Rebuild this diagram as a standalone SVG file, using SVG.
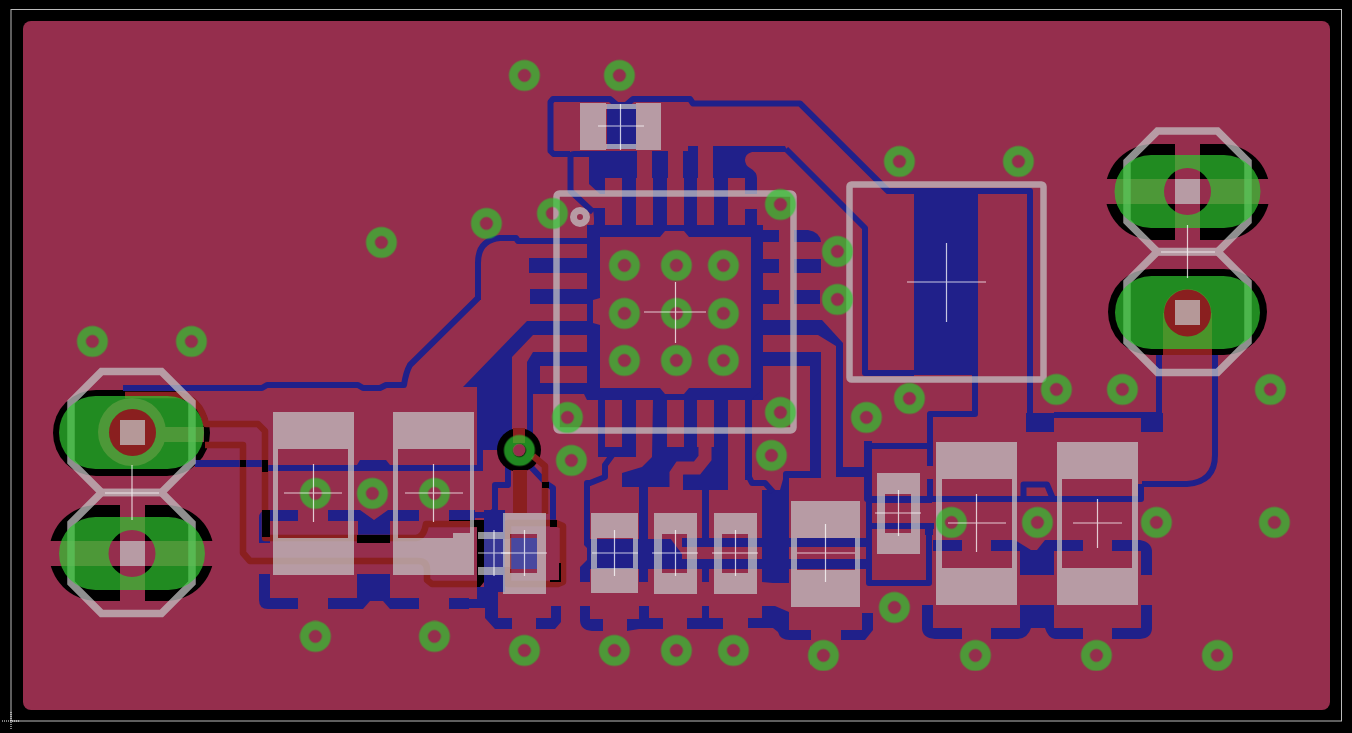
<svg xmlns="http://www.w3.org/2000/svg" width="1352" height="733" viewBox="0 0 1352 733">
<style>
.b{fill:#20208a}
.t{fill:none;stroke:#20208a;stroke-width:6;stroke-linejoin:round}
.p{fill:#952e4d}
.q{fill:none;stroke:#952e4d}
.r{fill:none;stroke:#8a1f1f;stroke-width:6.5;stroke-linejoin:round}
.k{fill:#000}
.sk{fill:none;stroke:#c5c5c5}
.x{stroke:#fff;stroke-opacity:.75;stroke-width:1.2;fill:none}
.v{fill:none;stroke:#30c630;stroke-width:9}
</style>
<defs>
<circle id="via" r="11" class="v"/>
<polygon id="oct" points="-30,-60.5 30,-60.5 60.5,-30 60.5,30 30,60.5 -30,60.5 -60.5,30 -60.5,-30" class="sk" stroke-width="7.5"/>
</defs>
<rect width="1352" height="733" fill="#000"/>
<rect x="11" y="9.500" width="1330.500" height="711.500" fill="none" stroke="#bbb" stroke-width="1"/>
<path d="M2,721H20M11,712V730" stroke="#fff" stroke-width="1" stroke-dasharray="1 1" fill="none"/>
<rect id="board" x="23" y="21" width="1307" height="689" rx="8" class="p"/>

<g id="halo">
<rect x="53" y="390" width="157" height="86" rx="43" class="k"/>
<rect x="49" y="505" width="165" height="96" rx="48" class="k"/>
<rect x="1105" y="144" width="165" height="96" rx="48" class="k"/>
<rect x="1108" y="269" width="159" height="86" rx="43" class="k"/>
<rect x="120" y="505" width="25" height="96" class="p"/><rect x="45" y="541" width="175" height="25" class="p"/>
<rect x="1175" y="144" width="25" height="96" class="p"/><rect x="1100" y="179" width="175" height="25" class="p"/>
<circle cx="132" cy="432" r="34" class="p"/>
<rect x="127" y="427" width="77" height="15" class="p"/>
</g>

<g id="connectors">
<g id="blue-traces">
<path class="t" d="M589,154H574Q570.500,154 570.500,158V191L593,212M570,154H553.500L550.500,151V102L553,99H610L617,105H626L633,99H690L693,103.500H800L888,191H1030V415"/>
<rect x="607" y="104" width="29" height="45" class="b"/>
<path class="b" d="M589,151H637V178H636V225H622V178H605V194H600L589,184Z"/>
<path class="b" d="M652,151H668V178H667V225H653V178H652Z"/>
<path class="b" d="M683,151H688V146H698V178H697V225H684V178H683Z"/>
<path class="b" d="M713,146H785L788,152H752Q745,154 745,160Q745,165 750,168Q757,172 757,178V194H745V178H728V225H714V178H713Z"/>
<path class="t" d="M786,149L865,228V373H914"/>
<rect x="745" y="209" width="12" height="18" class="b"/>
<path class="b" d="M593,208H605V226H600V237H587V234L594,224V218Z"/>
<path class="b" fill-rule="evenodd" d="M587,225H763V400H587ZM600,237V298L593,300V323L600,325V388H660L665,394H684L689,388H751V237H689L684,231H665L660,237Z"/>
<rect x="529" y="258" width="58" height="15" class="b"/>
<rect x="530" y="289" width="57" height="15" class="b"/>
<path class="b" d="M527,321H587V335H533L512,357V470H505V450H483V471H460V465H477V387H463Z"/>
<path class="b" fill-rule="evenodd" d="M527,362L533,352H587V389L598,400H587L584,394H527ZM540,366V383H587V366Z"/>
<path class="t" d="M530,362V466L547,484L553,488V520M478,300V263Q478,240 500,238H516L518,241H587"/>
<path class="t" d="M478,298L410,365Q406,372 404,385H386L380,388H363L358,385H267L262,388H123"/>
<path class="t" d="M508,465V485H495V510L490,515H460"/>
<rect x="763" y="230" width="16" height="12" class="b"/>
<path class="b" d="M794,230H808Q820,232 821,242H794Z"/>
<rect x="763" y="259" width="16" height="14" class="b"/>
<rect x="794" y="259" width="27" height="14" class="b"/>
<rect x="763" y="290" width="16" height="14" class="b"/>
<rect x="794" y="290" width="26" height="14" class="b"/>
<path class="b" d="M751,320H822L843,343V467H872V477H836V346L818,335H751Z"/>
<path class="b" fill-rule="evenodd" d="M763,352H821V478H789V583H773L762,582V490H773L780,490L785,472H810V383H763ZM763,366V383H810V366Z"/>
<path class="b" d="M763,389V400H751Z"/>
<rect x="598" y="400" width="7" height="47" class="b"/>
<rect x="622" y="400" width="14" height="57" class="b"/>
<rect x="598" y="447" width="38" height="10" class="b"/>
<path class="t" d="M613,454L605,465V477L590,483H587V540"/>
<path class="b" d="M653,400H667V447H684V400H697V447H714V400H728V490H683V472L670,487H622V473L642,467L652,457Z"/>
<path class="q" stroke-width="13" d="M705,447V458L697,468H680L676,474V490"/>
<rect x="745" y="400" width="7" height="80" class="b"/>
<path class="t" d="M748,475L752,483H765L773,492"/>
<rect x="484" y="510" width="21" height="82" class="b"/>
<path class="b" d="M477,587H498V618H512V629H495L485,618V608H460V599H477Z"/>
<path class="b" d="M536,618H551V606H561V622L555,629H536Z"/>
<rect x="510" y="538" width="27" height="31" class="b"/>
<path class="b" d="M584,539H682V569H590V582H580V567L587,560V548L584,545Z"/>
<polygon points="670,538 681,538 700,558 685,558" class="p"/>
<rect x="639" y="487" width="9" height="52" class="b"/><rect x="702" y="487" width="7" height="52" class="b"/>
<rect x="639" y="569" width="9" height="13" class="b"/><rect x="702" y="569" width="7" height="13" class="b"/>
<rect x="682" y="538" width="190" height="9" class="b"/><rect x="682" y="559" width="190" height="10" class="b"/>
<path class="b" d="M580,606H590V619H603V631H592Q580,630 580,620Z"/>
<path class="b" d="M639,606H649V618H663V629H639L627,631V619H639Z"/>
<path class="b" d="M702,606H709V618H723V629H687V618H702Z"/>
<path class="b" d="M762,606H775L789,612V630H811V640H790Q780,640 778,632L773,628H748V618H762Z"/>
<path class="b" d="M841,630H862V613H873V630L865,640H841Z"/>
<rect x="195" y="460" width="73" height="7" class="b"/>
<rect x="268" y="465" width="89" height="6" class="b"/>
<path class="b" d="M357,465L360,460H386L390,465H475V471H357Z"/>
<path class="b" d="M268,510H298V521H270V543H259V518Q259,510 268,510Z"/>
<path class="b" d="M328,510H360L374,520L388,510H419V521H390V543H358V521H328Z"/>
<rect x="449" y="510" width="26" height="11" class="b"/>
<rect x="259" y="574" width="11" height="24" class="b"/>
<path class="b" d="M259,598H298V609H268Q259,609 259,600Z"/>
<path class="b" d="M328,598H357V574H390V598H419V609H390L383,601H370L363,609H328Z"/>
<rect x="449" y="598" width="20" height="11" class="b"/>
<rect x="914" y="188" width="64" height="187" class="b"/>
<path class="t" d="M975,372V414H930V466M930,479V499H867V441M867,446H930M1142,484H1187Q1215,482 1215,455V355M1159,355V415H1054"/>
<path class="t" d="M927,499H1141V484M1023.500,499V484.500H1047L1053,499"/>
<rect x="1026" y="413" width="28" height="19" class="b"/>
<rect x="1141" y="413" width="22" height="19" class="b"/>
<path class="t" d="M786,545V474H818"/>
<path class="t" d="M869,441V583H929V527"/>
<path class="t" d="M869,526H934"/>
<path class="t" d="M869,500H932"/>
<path class="b" d="M925,527H933V540H962V551H933V535H925Z"/>
<path class="b" d="M991,540H1015L1031,550L1037,550L1045,540H1083V551H1054V575H1020V551H991Z"/>
<path class="b" d="M1112,540H1140Q1152,542 1152,552V575H1141V551H1112Z"/>
<path class="b" d="M922,605H933V628H962V639H935Q922,638 922,628Z"/>
<path class="b" d="M1020,605H1054V628H1083V639H1055Q1048,638 1045,628H1031Q1028,638 1018,639H991V628H1020Z"/>
<path class="b" d="M1141,605H1152V628Q1152,638 1140,639H1112V628H1141Z"/>
</g>

<g id="board-gaps">
<rect x="885" y="503" width="26" height="20" class="p"/>
</g>

<g id="red-traces">
<circle cx="519" cy="450" r="22" class="k"/>
<circle cx="519" cy="450" r="6.500" class="p"/>
<path class="r" d="M125,395H178Q200,398 206,424H258L265,431V538H416Q424,537 426,524H477M477,584H432L427,580V570Q427,561 418,561H250L243,553V445H205"/>
<path class="r" d="M508,523H556L563,526V582L558,584H508Z"/>
<rect x="513" y="470" width="14" height="43" fill="#8a1f1f"/>
<rect x="513" y="428" width="12" height="15" fill="#8a1f1f"/>
<path class="r" d="M533,456L545,466V514"/>
<circle cx="1187.500" cy="313" r="24" fill="#8a1f1f"/>
<rect x="1163" y="313" width="49" height="42" fill="#8a1f1f"/>
<circle cx="132.500" cy="432.500" r="23.500" fill="#8a1f1f"/>
</g>

<g id="crossings">
<rect x="240" y="460" width="6" height="7" class="k"/>
<rect x="262" y="460" width="6" height="12" class="k"/>
<rect x="262" y="510" width="8" height="27" class="k"/>
<rect x="357" y="535" width="33" height="8" class="k"/>
<rect x="449" y="520" width="21" height="1" class="k"/>
<path class="k" d="M470,520H484V582L480,587H477V527H470Z"/>
<rect x="542" y="482" width="7" height="6" class="k"/>
<rect x="550" y="520" width="7" height="7" class="k"/>
<path class="k" d="M559,563H561V582H550V580H559Z"/>
</g>
</g>

<g id="silk" opacity=".73">
<g class="sk" stroke-width="6.500">
<rect x="556.500" y="193.500" width="237" height="237" rx="3"/>
<rect x="849.500" y="184.500" width="194" height="195" rx="2"/>
</g>
<use href="#oct" x="131.500" y="432"/><use href="#oct" x="131.500" y="553"/>
<use href="#oct" x="1187.500" y="191.500"/><use href="#oct" x="1187.500" y="312"/>
<g fill="#c5c5c5">
<circle cx="580" cy="217" r="6.500" fill="none" stroke="#c5c5c5" stroke-width="7"/>
<rect x="120" y="420" width="25" height="25"/><rect x="120" y="541" width="25" height="25"/>
<rect x="1175" y="179" width="25" height="25"/><rect x="1175" y="300" width="25" height="25"/>
<rect x="580" y="103" width="26" height="47"/><rect x="636" y="103" width="25" height="47"/><rect x="606" y="104" width="30" height="5"/><rect x="606" y="144" width="30" height="5"/>
<path fill-rule="evenodd" d="M273,412H354V575H273ZM278,449V538H348V449Z"/>
<path fill-rule="evenodd" d="M393,412H474V575H393ZM398,449V538H470V449Z"/>
<rect x="453" y="533" width="21" height="42"/>
<rect x="478" y="532" width="32" height="7"/><rect x="478" y="567" width="32" height="8"/>
<rect x="503" y="513" width="43" height="21"/><rect x="503" y="573" width="43" height="21"/><rect x="503" y="534" width="7" height="39"/><rect x="537" y="534" width="9" height="39"/>
<path fill-rule="evenodd" d="M591,513H638V593H591ZM597,538V568H633V538Z"/>
<path fill-rule="evenodd" d="M654,513H697V594H654ZM662,534V573H687V534Z"/>
<path fill-rule="evenodd" d="M714,513H757V594H714ZM722,534V573H748V534Z"/>
<path fill-rule="evenodd" d="M791,501H860V607H791ZM797,538V570H855V538Z"/>
<path fill-rule="evenodd" d="M877,473H920V554H877ZM885,494V533H911V494Z"/>
<path fill-rule="evenodd" d="M936,442H1017V605H936ZM942,479V568H1012V479Z"/>
<path fill-rule="evenodd" d="M1057,442H1138V605H1057ZM1062,479V568H1132V479Z"/>
</g>
</g>
<rect x="510" y="538" width="27" height="31" fill="#fff" opacity=".18"/>
<rect x="484" y="539" width="26" height="28" fill="#fff" opacity=".1"/>

<g id="pads" fill="#30c630" opacity=".7">
<rect x="59" y="396" width="145" height="73" rx="36.500"/>
<path fill-rule="evenodd" d="M95.500,517H168.500A36.500,36.500 0 0 1 168.500,590H95.500A36.500,36.500 0 0 1 95.500,517ZM155.500,553.500A23.500,23.500 0 1 0 108.500,553.500A23.500,23.500 0 1 0 155.500,553.500Z"/>
<path fill-rule="evenodd" d="M1151,155H1224A36.500,36.500 0 0 1 1224,228H1151A36.500,36.500 0 0 1 1151,155ZM1211,191.500A23.500,23.500 0 1 0 1164,191.500A23.500,23.500 0 1 0 1211,191.500Z"/>
<rect x="1115" y="276" width="145" height="73" rx="36.500"/>
</g>
<g id="pad-centres">
<circle cx="132.500" cy="432.500" r="23.500" fill="#8a1f1f"/>
<rect x="120" y="420" width="25" height="25" fill="#c5c5c5" opacity=".73"/>
<circle cx="1187.500" cy="313" r="23.500" fill="#8a1f1f"/>
<rect x="1175" y="300" width="25" height="25" fill="#c5c5c5" opacity=".73"/>
</g>

<g id="vias" opacity=".7" transform="translate(.4 .4)">
<use href="#via" x="524" y="75"/><use href="#via" x="619" y="75"/><use href="#via" x="899" y="161"/><use href="#via" x="1018" y="161"/>
<use href="#via" x="381" y="242"/><use href="#via" x="486" y="223"/><use href="#via" x="552" y="213"/><use href="#via" x="780" y="204"/>
<use href="#via" x="837" y="251"/><use href="#via" x="837" y="299"/>
<use href="#via" x="624" y="265"/><use href="#via" x="676" y="265"/><use href="#via" x="723" y="265"/>
<use href="#via" x="624" y="313"/><use href="#via" x="676" y="313"/><use href="#via" x="723" y="313"/>
<use href="#via" x="624" y="360"/><use href="#via" x="676" y="360"/><use href="#via" x="723" y="360"/>
<use href="#via" x="92" y="341"/><use href="#via" x="191" y="341"/>
<use href="#via" x="1056" y="389"/><use href="#via" x="1122" y="389"/><use href="#via" x="1270" y="389"/>
<use href="#via" x="866" y="417"/><use href="#via" x="909" y="398"/><use href="#via" x="567" y="417"/><use href="#via" x="780" y="412"/>
<use href="#via" x="519" y="450"/><use href="#via" x="571" y="460"/><use href="#via" x="771" y="455"/>
<use href="#via" x="315" y="493"/><use href="#via" x="372" y="493"/><use href="#via" x="434" y="493"/>
<use href="#via" x="951" y="522"/><use href="#via" x="1037" y="522"/><use href="#via" x="1156" y="522"/><use href="#via" x="1274" y="522"/>
<use href="#via" x="894" y="607"/><use href="#via" x="315" y="636"/><use href="#via" x="434" y="636"/>
<use href="#via" x="524" y="650"/><use href="#via" x="614" y="650"/><use href="#via" x="676" y="650"/><use href="#via" x="733" y="650"/>
<use href="#via" x="823" y="655"/><use href="#via" x="975" y="655"/><use href="#via" x="1096" y="655"/><use href="#via" x="1217" y="655"/>
</g>

<g id="crosses" class="x">
<path d="M598,126H644M620.500,104V150"/>
<path d="M644,312H706M675.500,282V343"/>
<path d="M907,282H986M946.500,243V322"/>
<path d="M105,493H159M132,465V520"/>
<path d="M1161,252H1215M1187.500,225V278"/>
<path d="M284,493H342M313.500,464V522"/>
<path d="M405,493H463M433.500,464V522"/>
<path d="M478,553H510M494,530V576"/>
<path d="M501,553H547M524.500,530V576"/>
<path d="M592,553H638M614.500,530V576"/>
<path d="M652,553H698M675.500,530V576"/>
<path d="M712,553H758M735.500,530V576"/>
<path d="M797,553H855M825.500,524V582"/>
<path d="M875,513H921M898.500,490V536"/>
<path d="M948,523H1006M976.500,494V552"/>
<path d="M1073,523H1122M1097.500,499V548"/>
</g>
</svg>
